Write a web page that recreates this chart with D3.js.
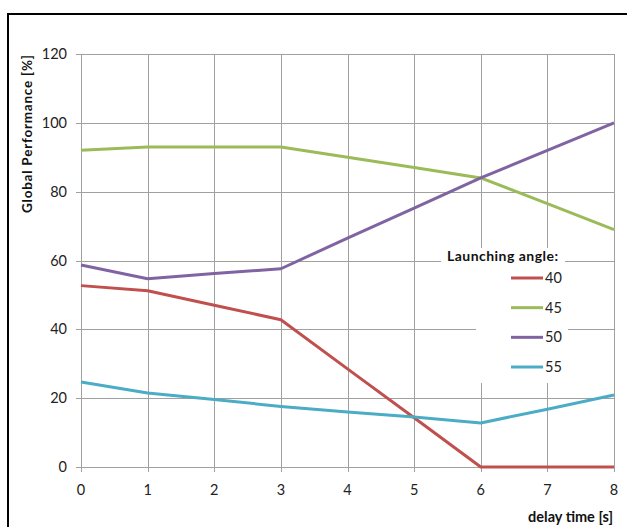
<!DOCTYPE html>
<html>
<head>
<meta charset="utf-8">
<script src="https://cdn.jsdelivr.net/npm/d3@7"></script>
<style>
  body { margin: 0; background: #fff; }
  svg { font-family: Lato, "Open Sans", sans-serif; }
</style>
</head>
<body>
<svg id="chart" width="627" height="527"></svg>
<script>
// values
const delays = [0, 1, 2, 3, 4, 5, 6, 7, 8];
const angles = ["40", "45", "50", "55"];
const perf40 = [52.7, 51.2, 47, 42.8, 28.5, 14.3, 0, 0, 0];
const perf45 = [92, 93, 93, 93, 90, 87, 84, 76.5, 69];
const perf50 = [58.7, 54.7, 56.2, 57.6, 66.5, 75.2, 84, 92, 100];
const perf55 = [24.7, 21.5, 19.6, 17.6, 16, 14.5, 12.8, 16.8, 20.9];
const yTicks = [0, 20, 40, 60, 80, 100, 120];
const colors = ["#c0504d", "#9bbb59", "#8064a2", "#4bacc6"];

const series = angles.map((a, i) => ({
  name: a,
  color: colors[i],
  values: [perf40, perf45, perf50, perf55][i]
}));

const svg = d3.select("#chart");

// outer frame
svg.append("rect")
  .attr("x", 8).attr("y", 14)
  .attr("width", 700).attr("height", 600)
  .attr("fill", "none")
  .attr("stroke", "#000")
  .attr("stroke-width", 2);

const x = d3.scaleLinear().domain([0, 8]).range([81, 614]);
const y = d3.scaleLinear().domain([0, 120]).range([467, 54]);

// grid + ticks
const grid = svg.append("g").attr("stroke", "#a0a0a0").attr("stroke-width", 1);
grid.selectAll(".h")
  .data(yTicks)
  .join("line")
  .attr("x1", 76).attr("x2", 614)
  .attr("y1", d => Math.round(y(d)) + 0.5)
  .attr("y2", d => Math.round(y(d)) + 0.5);
grid.selectAll(".v")
  .data(delays)
  .join("line")
  .attr("x1", d => Math.round(x(d)) + 0.5)
  .attr("x2", d => Math.round(x(d)) + 0.5)
  .attr("y1", 54).attr("y2", 472);

// tick labels
svg.append("g")
  .attr("font-size", 14.5).attr("fill", "#222")
  .attr("text-anchor", "end")
  .selectAll("text")
  .data(yTicks)
  .join("text")
  .attr("x", 67)
  .attr("y", d => y(d) + 5)
  .text(d => d);

svg.append("g")
  .attr("font-size", 14.5).attr("fill", "#222")
  .attr("text-anchor", "middle")
  .selectAll("text")
  .data(delays)
  .join("text")
  .attr("x", d => x(d))
  .attr("y", 495)
  .text(d => d);

// axis titles
svg.append("text")
  .attr("transform", "translate(32,134) rotate(-90)")
  .attr("text-anchor", "middle")
  .attr("font-size", 13.5).attr("font-weight", "bold").attr("fill", "#111")
  .attr("textLength", 158).attr("lengthAdjust", "spacing")
  .text("Global Performance [%]");

svg.append("text")
  .attr("x", 613).attr("y", 522)
  .attr("text-anchor", "end")
  .attr("font-size", 14.5).attr("font-weight", "bold").attr("fill", "#111")
  .text("delay time [s]");

// lines
const line = d3.line()
  .x((d, i) => x(delays[i]))
  .y(d => y(d));

svg.append("g")
  .selectAll("path")
  .data(series)
  .join("path")
  .attr("fill", "none")
  .attr("stroke", d => d.color)
  .attr("stroke-width", 3)
  .attr("stroke-linejoin", "round")
  .attr("d", d => line(d.values));

// legend
const legend = svg.append("g");
legend.append("rect")
  .attr("x", 441).attr("y", 248).attr("width", 124).attr("height", 20)
  .attr("fill", "#fff");
legend.append("rect")
  .attr("x", 476).attr("y", 267).attr("width", 92).attr("height", 116)
  .attr("fill", "#fff");
legend.append("text")
  .attr("x", 447).attr("y", 261)
  .attr("font-size", 14).attr("font-weight", "bold").attr("fill", "#111")
  .attr("textLength", 111).attr("lengthAdjust", "spacing")
  .text("Launching angle:");

const ly = d3.scalePoint().domain(angles).range([278, 367]);
const item = legend.selectAll(".item")
  .data(series)
  .join("g")
  .attr("transform", d => `translate(0,${ly(d.name)})`);
item.append("line")
  .attr("x1", 511).attr("x2", 543)
  .attr("stroke", d => d.color)
  .attr("stroke-width", 3);
item.append("text")
  .attr("x", 545).attr("y", 5)
  .attr("font-size", 14.5).attr("fill", "#222")
  .text(d => d.name);
</script>
</body>
</html>
